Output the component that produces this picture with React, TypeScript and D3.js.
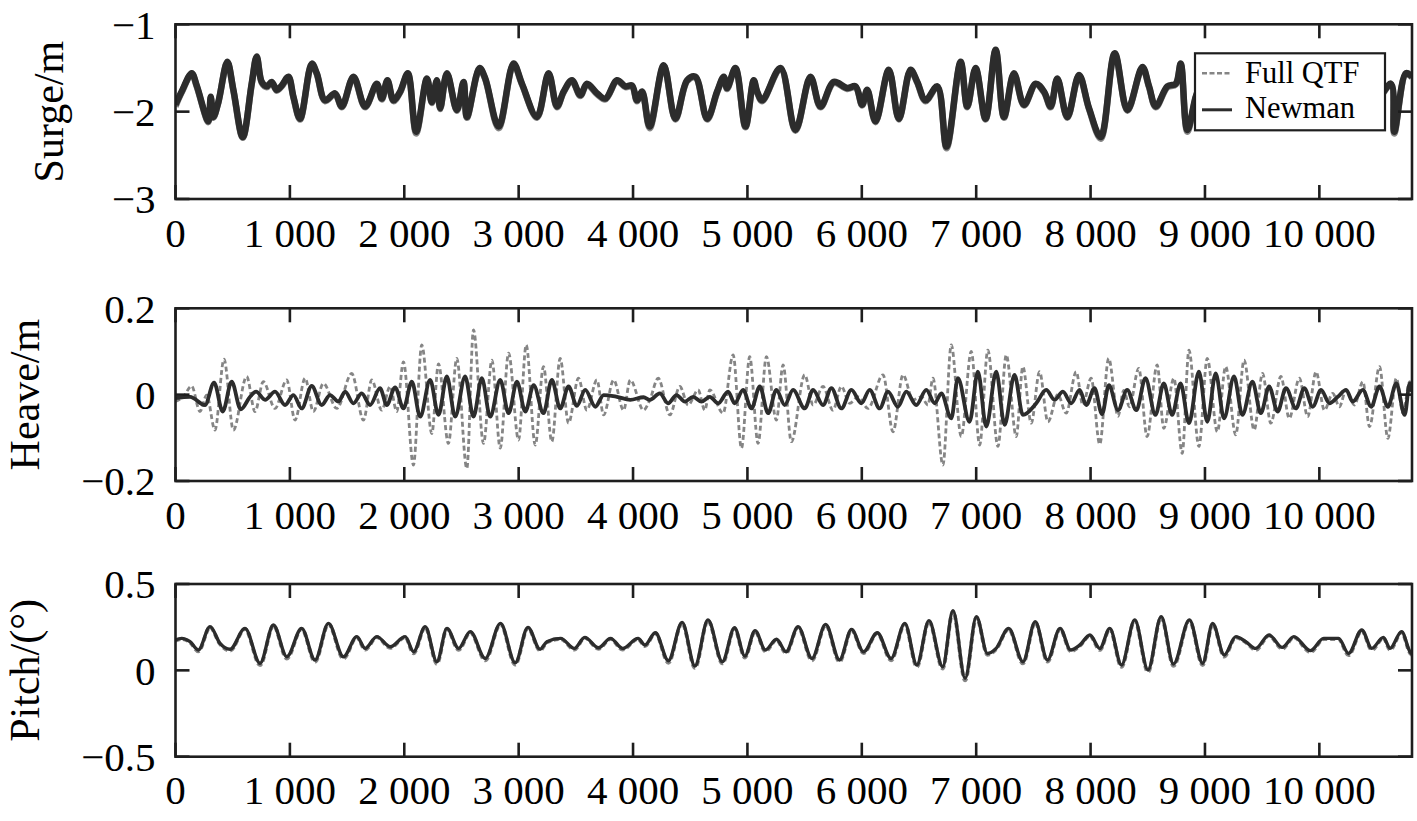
import React from 'react';
import * as d3 from 'd3';

// ---------- axis ticks ----------
const xTicks = [0, 1000, 2000, 3000, 4000, 5000, 6000, 7000, 8000, 9000, 10000];
const xTickLabels = ['0', '1 000', '2 000', '3 000', '4 000', '5 000', '6 000', '7 000', '8 000', '9 000', '10 000'];
const xDomain = [0, 10810];

const surgeTicks = [-1, -2, -3];
const surgeTickLabels = ['\u22121', '\u22122', '\u22123'];
const heaveTicks = [0.2, 0, -0.2];
const heaveTickLabels = ['0.2', '0', '\u22120.2'];
const pitchTicks = [0.5, 0, -0.5];
const pitchTickLabels = ['0.5', '0', '\u22120.5'];

const seriesNames = ['Full QTF', 'Newman'];

// ---------- surge: [time, Newman, Full QTF] ----------
const surgeData: [number, number, number][] = [
  [0, -1.92, -1.94], [54, -1.77, -1.78], [142, -1.56, -1.57], [185, -1.70, -1.71], [287, -2.11, -2.12],
  [308, -1.83, -1.84], [331, -2.06, -2.07], [375, -1.89, -1.89], [453, -1.43, -1.44], [506, -1.75, -1.76],
  [588, -2.29, -2.30], [666, -1.68, -1.69], [710, -1.37, -1.38], [754, -1.66, -1.67], [798, -1.71, -1.72],
  [841, -1.66, -1.67], [885, -1.75, -1.76], [929, -1.70, -1.71], [987, -1.60, -1.61], [1031, -1.83, -1.84],
  [1089, -2.08, -2.09], [1191, -1.45, -1.46], [1235, -1.56, -1.57], [1308, -1.87, -1.88], [1395, -1.79, -1.80],
  [1454, -1.94, -1.95], [1556, -1.60, -1.61], [1658, -1.94, -1.95], [1760, -1.68, -1.69], [1804, -1.85, -1.86],
  [1853, -1.64, -1.65], [1906, -1.87, -1.88], [1964, -1.77, -1.78], [2031, -1.56, -1.57], [2104, -2.23, -2.25],
  [2198, -1.62, -1.63], [2241, -1.89, -1.90], [2285, -1.64, -1.65], [2314, -1.96, -1.97], [2373, -1.56, -1.57],
  [2460, -1.98, -1.99], [2518, -1.66, -1.67], [2548, -2.06, -2.07], [2658, -1.50, -1.51], [2708, -1.62, -1.63],
  [2825, -2.17, -2.19], [2955, -1.45, -1.46], [3029, -1.68, -1.69], [3160, -2.06, -2.07], [3262, -1.56, -1.57],
  [3335, -1.94, -1.95], [3393, -1.77, -1.78], [3466, -1.64, -1.65], [3539, -1.81, -1.82], [3597, -1.68, -1.69],
  [3685, -1.79, -1.80], [3758, -1.85, -1.86], [3860, -1.64, -1.65], [3933, -1.71, -1.72], [3991, -1.70, -1.71],
  [4035, -1.87, -1.88], [4079, -1.77, -1.78], [4146, -2.17, -2.19], [4268, -1.47, -1.48], [4370, -2.08, -2.09],
  [4473, -1.64, -1.65], [4545, -1.60, -1.61], [4648, -2.08, -2.09], [4735, -1.77, -1.78], [4793, -1.60, -1.61],
  [4822, -1.73, -1.74], [4895, -1.50, -1.51], [4983, -2.17, -2.18], [5055, -1.64, -1.65], [5085, -1.77, -1.78],
  [5129, -1.87, -1.88], [5289, -1.50, -1.51], [5420, -2.21, -2.22], [5551, -1.60, -1.61], [5639, -1.94, -1.95],
  [5755, -1.66, -1.67], [5872, -1.73, -1.74], [5945, -1.71, -1.72], [6003, -1.92, -1.93], [6047, -1.75, -1.76],
  [6120, -2.11, -2.12], [6236, -1.52, -1.53], [6324, -2.08, -2.09], [6426, -1.52, -1.53], [6485, -1.66, -1.67],
  [6557, -1.87, -1.88], [6660, -1.71, -1.72], [6741, -2.40, -2.42], [6864, -1.43, -1.44], [6922, -1.94, -1.95],
  [6995, -1.50, -1.51], [7082, -2.08, -2.09], [7170, -1.29, -1.30], [7243, -2.06, -2.07], [7330, -1.56, -1.57],
  [7418, -1.92, -1.93], [7520, -1.68, -1.69], [7593, -1.77, -1.78], [7651, -1.94, -1.95], [7709, -1.62, -1.63],
  [7797, -2.06, -2.07], [7899, -1.58, -1.59], [7986, -1.96, -1.97], [8089, -2.29, -2.31], [8211, -1.33, -1.34],
  [8322, -1.98, -1.99], [8453, -1.49, -1.50], [8511, -1.71, -1.72], [8570, -1.94, -1.95], [8672, -1.71, -1.72],
  [8745, -1.68, -1.69], [8788, -1.45, -1.46], [8847, -2.21, -2.23], [8950, -1.75, -1.76], [9050, -1.95, -1.96],
  [9150, -1.70, -1.71], [9300, -1.90, -1.91], [9450, -1.65, -1.66], [9600, -1.85, -1.86], [9750, -1.70, -1.71],
  [9900, -1.95, -1.96], [10050, -1.65, -1.66], [10200, -1.90, -1.91], [10350, -1.70, -1.71], [10500, -1.85, -1.86],
  [10626, -1.68, -1.69], [10655, -2.23, -2.25], [10757, -1.56, -1.57], [10810, -1.60, -1.61],
];

// ---------- heave: [time, value] ----------
const heaveNewman: [number, number][] = [
  [0, -0.008], [127, -0.005], [258, -0.024], [337, 0.028], [413, -0.039], [491, 0.030], [570, -0.034],
  [652, -0.005], [704, 0.007], [783, -0.012], [870, 0.007], [958, -0.024], [1031, -0.001], [1103, -0.032],
  [1191, 0.020], [1278, -0.024], [1351, -0.001], [1424, -0.016], [1483, 0.007], [1555, -0.020], [1628, 0.003],
  [1701, -0.024], [1788, 0.015], [1847, -0.024], [1920, 0.017], [1993, -0.032], [2066, 0.030], [2139, -0.051],
  [2226, 0.034], [2299, -0.047], [2372, 0.042], [2445, -0.051], [2532, 0.042], [2605, -0.051], [2678, 0.038],
  [2751, -0.051], [2839, 0.034], [2912, -0.043], [2985, 0.030], [3058, -0.039], [3131, 0.022], [3217, -0.043],
  [3290, 0.034], [3363, -0.032], [3436, 0.019], [3509, -0.026], [3582, 0.011], [3670, -0.028], [3743, -0.001],
  [3859, -0.005], [3976, -0.012], [4092, -0.006], [4147, -0.012], [4234, 0.003], [4307, -0.020], [4380, -0.001],
  [4453, -0.016], [4525, -0.005], [4598, -0.016], [4671, -0.005], [4744, -0.020], [4831, 0.007], [4889, -0.020],
  [4962, 0.011], [5035, -0.032], [5108, 0.019], [5181, -0.043], [5253, 0.011], [5326, -0.024], [5399, 0.011],
  [5501, -0.032], [5574, 0.011], [5661, -0.024], [5734, 0.015], [5821, -0.032], [5909, 0.011], [5996, -0.020],
  [6069, 0.011], [6156, -0.032], [6229, 0.007], [6316, -0.028], [6389, 0.007], [6476, -0.024], [6564, 0.011],
  [6637, -0.020], [6695, 0.003], [6782, -0.055], [6840, 0.038], [6942, -0.063], [7015, 0.053], [7088, -0.074],
  [7175, 0.053], [7248, -0.070], [7335, 0.046], [7408, -0.047], [7525, -0.020], [7612, 0.011], [7685, -0.012],
  [7758, 0.007], [7831, -0.020], [7904, 0.011], [7962, -0.024], [8034, 0.015], [8100, -0.045], [8160, 0.022],
  [8240, -0.036], [8320, 0.011], [8400, -0.036], [8480, 0.038], [8567, -0.047], [8640, 0.026], [8713, -0.047],
  [8787, 0.026], [8860, -0.066], [8947, 0.053], [9020, -0.063], [9094, 0.049], [9167, -0.055], [9254, 0.042],
  [9327, -0.047], [9415, 0.030], [9488, -0.043], [9561, 0.019], [9635, -0.039], [9708, 0.015], [9795, -0.032],
  [9868, 0.015], [9942, -0.028], [10015, 0.011], [10088, -0.020], [10161, -0.005], [10234, 0.011], [10292, -0.016],
  [10380, 0.011], [10453, -0.028], [10526, 0.019], [10599, -0.028], [10673, 0.026], [10746, -0.047], [10790, 0.026],
  [10810, 0.007],
];

const heaveFull: [number, number][] = [
  [0, -0.016], [69, -0.005], [141, 0.020], [214, -0.039], [273, -0.001], [345, -0.082], [424, 0.082],
  [506, -0.082], [622, 0.042], [695, -0.039], [768, 0.030], [870, -0.032], [972, 0.034], [1045, -0.059],
  [1133, 0.038], [1205, -0.039], [1293, 0.026], [1410, -0.032], [1541, 0.049], [1643, -0.059], [1716, 0.034],
  [1803, -0.036], [1876, 0.019], [1934, -0.039], [1993, 0.076], [2080, -0.163], [2153, 0.115], [2241, -0.090],
  [2299, 0.071], [2386, -0.113], [2459, 0.084], [2547, -0.171], [2605, 0.150], [2693, -0.113], [2766, 0.080],
  [2839, -0.124], [2912, 0.096], [2999, -0.105], [3066, 0.115], [3145, -0.117], [3217, 0.065], [3290, -0.109],
  [3363, 0.084], [3436, -0.066], [3523, 0.038], [3596, -0.036], [3684, 0.034], [3743, -0.047], [3830, 0.034],
  [3917, -0.036], [3976, 0.034], [4092, -0.036], [4147, -0.012], [4220, 0.038], [4322, -0.047], [4409, 0.019],
  [4482, -0.024], [4569, 0.011], [4627, -0.036], [4671, 0.011], [4787, -0.043], [4875, 0.092], [4948, -0.124],
  [5020, 0.088], [5093, -0.113], [5166, 0.088], [5253, -0.059], [5312, 0.069], [5384, -0.109], [5501, 0.046],
  [5574, -0.024], [5661, 0.019], [5748, -0.036], [5821, 0.019], [5894, -0.020], [5967, -0.005], [6054, -0.032],
  [6185, 0.046], [6273, -0.086], [6360, 0.046], [6447, -0.012], [6520, -0.005], [6578, -0.024], [6622, 0.038],
  [6709, -0.163], [6782, 0.115], [6869, -0.097], [6957, 0.100], [7030, -0.117], [7102, 0.103], [7190, -0.120],
  [7263, 0.092], [7350, -0.097], [7408, 0.065], [7481, -0.066], [7554, 0.053], [7627, -0.063], [7714, 0.000],
  [7787, -0.043], [7874, 0.053], [7932, -0.024], [8005, 0.038], [8080, -0.115], [8158, 0.084], [8240, -0.050],
  [8290, 0.010], [8340, -0.028], [8421, 0.061], [8494, -0.097], [8582, 0.069], [8640, -0.078], [8728, 0.038],
  [8801, -0.136], [8860, 0.103], [8947, -0.120], [9020, 0.084], [9108, -0.086], [9181, 0.065], [9269, -0.093],
  [9342, 0.080], [9430, -0.082], [9503, 0.049], [9576, -0.066], [9664, 0.042], [9737, -0.055], [9825, 0.038],
  [9898, -0.051], [9971, 0.053], [10044, -0.036], [10117, 0.003], [10175, -0.028], [10234, 0.011], [10307, -0.024],
  [10380, 0.030], [10439, -0.074], [10526, 0.065], [10599, -0.101], [10673, 0.038], [10731, -0.043], [10790, 0.030],
  [10810, 0.010],
];

// ---------- pitch: [time, Newman, Full QTF] ----------
const pitchData: [number, number, number][] = [
  [0, 0.176, 0.172], [54, 0.185, 0.182], [127, 0.166, 0.162], [200, 0.118, 0.110], [302, 0.253, 0.250],
  [389, 0.156, 0.152], [477, 0.122, 0.114], [608, 0.243, 0.240], [739, 0.041, 0.030], [856, 0.263, 0.260],
  [973, 0.079, 0.068], [1103, 0.243, 0.240], [1220, 0.060, 0.050], [1337, 0.272, 0.268], [1468, 0.079, 0.068],
  [1585, 0.195, 0.192], [1658, 0.127, 0.120], [1760, 0.195, 0.192], [1877, 0.137, 0.130], [2008, 0.195, 0.192],
  [2081, 0.108, 0.098], [2183, 0.253, 0.250], [2285, 0.050, 0.038], [2373, 0.243, 0.240], [2475, 0.127, 0.118],
  [2577, 0.224, 0.220], [2708, 0.069, 0.058], [2841, 0.272, 0.268], [2970, 0.044, 0.034], [3081, 0.249, 0.245],
  [3187, 0.122, 0.115], [3247, 0.166, 0.162], [3367, 0.185, 0.182], [3487, 0.127, 0.120], [3578, 0.191, 0.188],
  [3698, 0.131, 0.125], [3803, 0.185, 0.182], [3909, 0.127, 0.120], [4044, 0.185, 0.182], [4104, 0.147, 0.140],
  [4195, 0.218, 0.215], [4309, 0.056, 0.044], [4429, 0.278, 0.274], [4541, 0.025, 0.014], [4655, 0.292, 0.288],
  [4781, 0.050, 0.040], [4887, 0.247, 0.243], [4977, 0.083, 0.074], [5067, 0.230, 0.226], [5157, 0.118, 0.110],
  [5254, 0.180, 0.176], [5338, 0.108, 0.100], [5443, 0.253, 0.249], [5564, 0.069, 0.058], [5684, 0.266, 0.262],
  [5805, 0.060, 0.050], [5910, 0.237, 0.233], [6015, 0.108, 0.100], [6135, 0.218, 0.214], [6256, 0.069, 0.058],
  [6376, 0.272, 0.268], [6481, 0.031, 0.020], [6587, 0.288, 0.284], [6707, 0.021, 0.010], [6797, 0.346, 0.342],
  [6903, -0.046, -0.058], [7002, 0.311, 0.307], [7098, 0.098, 0.090], [7174, 0.127, 0.122], [7284, 0.243, 0.239],
  [7409, 0.050, 0.040], [7516, 0.282, 0.278], [7623, 0.060, 0.050], [7733, 0.243, 0.239], [7826, 0.118, 0.110],
  [7907, 0.147, 0.142], [7994, 0.205, 0.201], [8081, 0.127, 0.118], [8168, 0.243, 0.239], [8270, 0.031, 0.020],
  [8386, 0.292, 0.288], [8502, 0.002, -0.010], [8617, 0.311, 0.307], [8725, 0.037, 0.026], [8864, 0.292, 0.288],
  [8980, 0.041, 0.030], [9067, 0.272, 0.268], [9168, 0.089, 0.080], [9270, 0.195, 0.191], [9357, 0.166, 0.162],
  [9444, 0.127, 0.118], [9560, 0.205, 0.201], [9676, 0.133, 0.125], [9777, 0.195, 0.191], [9922, 0.114, 0.105],
  [10038, 0.185, 0.181], [10168, 0.185, 0.181], [10255, 0.098, 0.088], [10371, 0.234, 0.230], [10458, 0.127, 0.118],
  [10560, 0.191, 0.187], [10618, 0.127, 0.118], [10719, 0.224, 0.220], [10792, 0.108, 0.100], [10810, 0.095, 0.088],
];

const FONT = "'Liberation Serif', 'Times New Roman', Times, serif";
const W = 1417;
const H = 821;
const LEFT = 175.5;
const RIGHT = 1412;

type Panel = {
  label: string;
  top: number;
  bottom: number;
  domain: [number, number];
  ticks: number[];
  tickLabels: string[];
  labelX: number;
  full: [number, number][];
  newman: [number, number][];
  fullWidth: number;
  newmanWidth: number;
  curve: d3.CurveFactory;
};

const panels: Panel[] = [
  {
    label: 'Surge/m', top: 24.3, bottom: 199, domain: [-3, -1], ticks: surgeTicks, tickLabels: surgeTickLabels,
    labelX: 63,
    full: surgeData.map((d) => [d[0], d[2]] as [number, number]),
    newman: surgeData.map((d) => [d[0], d[1]] as [number, number]),
    fullWidth: 6.5, newmanWidth: 6.5, curve: d3.curveCatmullRom.alpha(0.5),
  },
  {
    label: 'Heave/m', top: 308.3, bottom: 481, domain: [-0.2, 0.2], ticks: heaveTicks, tickLabels: heaveTickLabels,
    labelX: 39, full: heaveFull, newman: heaveNewman, fullWidth: 2.8, newmanWidth: 3.8, curve: d3.curveMonotoneX,
  },
  {
    label: 'Pitch/(\u00b0)', top: 584, bottom: 756.7, domain: [-0.5, 0.5], ticks: pitchTicks, tickLabels: pitchTickLabels,
    labelX: 39,
    full: pitchData.map((d) => [d[0], d[2]] as [number, number]),
    newman: pitchData.map((d) => [d[0], d[1]] as [number, number]),
    fullWidth: 3.8, newmanWidth: 3.4, curve: d3.curveMonotoneX,
  },
];

const x = d3.scaleLinear().domain(xDomain).range([LEFT, RIGHT]);
const TICK = 14;
const FRAME = '#1e1e1e';

function PanelView({ p, idx }: { p: Panel; idx: number }) {
  const y = d3.scaleLinear().domain(p.domain).range([p.bottom, p.top]);
  const line = d3
    .line<[number, number]>()
    .x((d) => x(d[0]))
    .y((d) => y(d[1]))
    .curve(p.curve);
  const clipId = `clip${idx}`;
  const midY = (p.top + p.bottom) / 2;
  return (
    <g>
      <defs>
        <clipPath id={clipId}>
          <rect x={LEFT} y={p.top} width={RIGHT - LEFT} height={p.bottom - p.top} />
        </clipPath>
      </defs>
      <g clipPath={`url(#${clipId})`}>
        <path d={line(p.full) || ''} fill="none" stroke="#858585" strokeWidth={p.fullWidth}
          strokeDasharray={idx === 0 ? undefined : '5,3'} strokeLinejoin="round" />
        <path d={line(p.newman) || ''} fill="none" stroke="#2c2c2c" strokeWidth={p.newmanWidth}
          strokeLinejoin="round" />
      </g>
      <rect x={LEFT} y={p.top} width={RIGHT - LEFT} height={p.bottom - p.top} fill="none" stroke={FRAME} strokeWidth={2.6} />
      {xTicks.map((t, i) => (
        <g key={`xt${i}`}>
          <line x1={x(t)} x2={x(t)} y1={p.top} y2={p.top + TICK} stroke={FRAME} strokeWidth={2.6} />
          <line x1={x(t)} x2={x(t)} y1={p.bottom} y2={p.bottom - TICK} stroke={FRAME} strokeWidth={2.6} />
          <text x={x(t)} y={p.bottom + 47.5} textAnchor="middle" fontFamily={FONT} fontSize={41} fill="#000">
            {xTickLabels[i]}
          </text>
        </g>
      ))}
      {p.ticks.map((t, i) => (
        <g key={`yt${i}`}>
          <line x1={LEFT} x2={LEFT + TICK} y1={y(t)} y2={y(t)} stroke={FRAME} strokeWidth={2.6} />
          <line x1={RIGHT} x2={RIGHT - TICK} y1={y(t)} y2={y(t)} stroke={FRAME} strokeWidth={2.6} />
          <text x={LEFT - 20} y={y(t)} dy="0.35em" textAnchor="end" fontFamily={FONT} fontSize={41} fill="#000">
            {p.tickLabels[i]}
          </text>
        </g>
      ))}
      <text transform={`translate(${p.labelX},${midY}) rotate(-90)`} textAnchor="middle" fontFamily={FONT}
        fontSize={42} fill="#000">
        {p.label}
      </text>
    </g>
  );
}

export default function App() {
  const lx = 1195;
  const ly = 53.3;
  return (
    <svg width={W} height={H} viewBox={`0 0 ${W} ${H}`} style={{ position: 'absolute', left: 0, top: 0, background: '#fff' }}>
      <rect x={0} y={0} width={W} height={H} fill="#fff" />
      {panels.map((p, i) => (
        <PanelView key={i} p={p} idx={i} />
      ))}
      <g>
        <rect x={lx} y={ly} width={190} height={77} fill="#fff" stroke={FRAME} strokeWidth={2.2} />
        <line x1={lx + 7} x2={lx + 37} y1={ly + 20} y2={ly + 20} stroke="#858585" strokeWidth={2.6} strokeDasharray="5,2.5" />
        <line x1={lx + 7} x2={lx + 37} y1={ly + 56.5} y2={ly + 56.5} stroke="#2c2c2c" strokeWidth={3} />
        <text x={lx + 50} y={ly + 30} fontFamily={FONT} fontSize={30.5} fill="#000">{seriesNames[0]}</text>
        <text x={lx + 50} y={ly + 65} fontFamily={FONT} fontSize={30.5} fill="#000">{seriesNames[1]}</text>
      </g>
    </svg>
  );
}
